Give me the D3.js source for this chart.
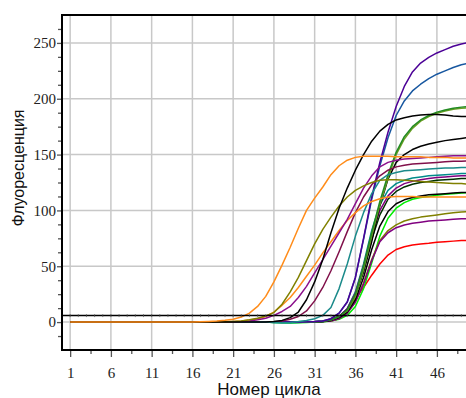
<!DOCTYPE html>
<html>
<head>
<meta charset="utf-8">
<script src="https://cdn.jsdelivr.net/npm/d3@7"></script>
<style>
  html, body { margin: 0; padding: 0; background: #fff; }
  svg { display: block; }
</style>
</head>
<body>
<svg id="chart" width="466" height="398"></svg>
<script>
// ---------- data ----------
const cycles = [1,2,3,4,5,6,7,8,9,10,11,12,13,14,15,16,17,18,19,20,21,22,23,24,25,26,27,28,29,30,31,32,33,34,35,36,37,38,39,40,41,42,43,44,45,46,47,48,49,50];
const xTickLabels = [1,6,11,16,21,26,31,36,41,46];
const yTickLabels = [0,50,100,150,200,250];
const threshold = 5.8;

const orange1 = [0,0,0,0,0,0,0,0,0,0, 0,0,0,0,0,0,0.3,0.6,1,1.6, 2.6,4.5,8,14,23,36,51,67,84,100, 111,121,132,140,145,147.5,148.5,148.5,148.5,148.5, 148,148,148,148,147.5,147.5,147.5,147,147,147];
const olive1  = [0,0,0,0,0,0,0,0,0,0, 0,0,0,0,0,0,0,0,0,0.3, 0.6,1,2,3.5,5.5,8.5,16,27,40,55, 70,83,94,104,112,118,122,125,127,127.5, 127.5,127,126.5,126,125.5,125,124.5,124,124,123.5];
const purple1 = [0,0,0,0,0,0,0,0,0,0, 0,0,0,0,0,0,0,0,0,0.2, 0.3,0.5,1,2,3.5,6,9.5,14,22,32, 44,56,68,80,92,106,120,131,139,143, 145,146,146.5,147,147.5,148,148.5,149,149,149];
const orange2 = [0,0,0,0,0,0,0,0,0,0, 0,0,0,0,0,0,0,0,0,0.3, 0.6,1,1.8,3,5,9,15,22,31,41, 51,62,72,82,91,98,104,108,110.5,112, 112.5,112.5,112.5,112,112,112,112,112,112,112];
const black1  = [0,0,0,0,0,0,0,0,0,0, 0,0,0,0,0,0,0,0,0,0, 0,0,0,0,0,0.5,1.5,4,9,20, 36,56,80,102,120,136,150,162,171,177, 181,183,184.5,185.5,186,186,185.5,184.5,184,184];
const teal1   = [0,0,0,0,0,0,0,0,0,0, 0,0,0,0,0,0,0,0,0,0, 0,0,0,0,0,-0.3,-0.5,-0.3,0.5,1.5, 3,6,13,30,52,77,98,115,127,132, 134,135.5,136,136.5,137,137.5,138,138,138.5,138.5];
const maroon  = [0,0,0,0,0,0,0,0,0,0, 0,0,0,0,0,0,0,0,0,0, 0,0,0,0,0,0.3,1,2.5,5,10, 19,31,46,63,81,98,112,123,131,136, 139,140.5,141.5,142,142.5,143,143.5,144,144,144.5];
const indigo  = [0,0,0,0,0,0,0,0,0,0, 0,0,0,0,0,0,0,0,0,0, 0,0,0,0,0,0,0,0,0,0.2, 0.5,1,3,8,18,40,75,112,143,170, 193,211,224,232,237,241,244,247,249,250.5];
const blue    = [0,0,0,0,0,0,0,0,0,0, 0,0,0,0,0,0,0,0,0,0, 0,0,0,0,0,0,0,0,0,0.2, 0.5,1,3,8,18,40,74,110,140,165, 185,198,207,213,218,222,225,228,230.5,232];
const green1  = [0,0,0,0,0,0,0,0,0,0, 0,0,0,0,0,0,0,0,0,0, 0,0,0,0,0,0,0,0,0,0, 0.3,0.8,2,5,11,25,50,80,108,132, 152,166,175,181,185,188,190,191.5,192.5,193];
const green2  = [0,0,0,0,0,0,0,0,0,0, 0,0,0,0,0,0,0,0,0,0, 0,0,0,0,0,0,0,0,0,0, 0.3,0.8,2,5,10,23,47,77,105,129, 150,164,173.5,180,184,187,189,190.5,191.5,192];
const black3  = [0,0,0,0,0,0,0,0,0,0, 0,0,0,0,0,0,0,0,0,0, 0,0,0,0,0,0,0,0,0,0, 0.3,0.8,2,5,11,24,45,72,104,128, 143,150,154.5,157.5,159.5,161,162.5,163.5,164.5,165.5];
const purple3 = [0,0,0,0,0,0,0,0,0,0, 0,0,0,0,0,0,0,0,0,0, 0,0,0,0,0,0,0,0,0,0, 0.3,0.8,2,5,12,26,50,78,100,113, 120,124,126,127.5,128.5,129.5,130,130.5,131,131];
const dkgreen = [0,0,0,0,0,0,0,0,0,0, 0,0,0,0,0,0,0,0,0,0, 0,0,0,0,0,0,0,0,0,0, 0.2,0.6,2,5,11,24,46,74,96,110, 117,121,123.5,125,126,127,127.5,128,128.5,128.5];
const teal2   = [0,0,0,0,0,0,0,0,0,0, 0,0,0,0,0,0,0,0,0,0, 0,0,0,0,0,-0.3,-0.5,-0.5,-0.3,0, 0.2,0.6,2,5,12,27,52,82,105,118, 124,127,129,130,131,131.5,132,132.5,133,133];
const black2  = [0,0,0,0,0,0,0,0,0,0, 0,0,0,0,0,0,0,0,0,0, 0,0,0,0,0,0,0,0,0,0, 0.2,0.5,1.5,4,9,20,40,65,86,99, 106,109.5,111.5,113,114,114.5,115,115.5,116,116];
const lime    = [0,0,0,0,0,0,0,0,0,0, 0,0,0,0,0,0,0,0,0,0, 0,0,0,0,0,-0.3,-0.6,-0.8,-0.6,-0.3, 0,0.3,1,2.5,6,14,30,53,77,93, 102,107,110,111.5,112.5,113.5,114.5,115,115.5,116];
const olive2  = [0,0,0,0,0,0,0,0,0,0, 0,0,0,0,0,0,0,0,0,0, 0,0,0,0,0,0,0,0,0,0, 0.2,0.5,1,3,8,18,35,56,73,82, 87,90.5,92.5,94,95,96,97,98,98.5,99];
const purple2 = [0,0,0,0,0,0,0,0,0,0, 0,0,0,0,0,0,0,0,0,0, 0,0,0,0,0,0,0,0,0,0, 0.2,0.5,1,3,8,18,34,55,72,80, 84.5,87,88.5,89.5,90.5,91,91.5,92,92.5,92.7];
const red     = [0,0,0,0,0,0,0,0,0,0, 0,0,0,0,0,0,0,0,0,0, 0,0,0,0,0,0,0,0,0,0, 0,0.5,2,5,12,21,31,42,52,60, 65,67.5,69,70,70.5,71.5,72,72.5,73,73.3];

const seriesList = [
  { values: red,     color: "#ff0000" },
  { values: lime,    color: "#00ee00" },
  { values: olive2,  color: "#808000" },
  { values: purple2, color: "#800080" },
  { values: black2,  color: "#000000" },
  { values: teal2,   color: "#008b8b" },
  { values: dkgreen, color: "#003000" },
  { values: purple3, color: "#800080" },
  { values: black3,  color: "#000000" },
  { values: green2,  color: "#6b9e23" },
  { values: green1,  color: "#228b22" },
  { values: blue,    color: "#1757a0" },
  { values: indigo,  color: "#4b0096" },
  { values: maroon,  color: "#80104a" },
  { values: teal1,   color: "#1a8a8a" },
  { values: orange2, color: "#ff8c1a" },
  { values: purple1, color: "#8b108b" },
  { values: olive1,  color: "#808000" },
  { values: black1,  color: "#000000" },
  { values: orange1, color: "#ff8c1a" }
];

// ---------- layout ----------
const svg = d3.select("#chart");
const L = 62, T = 15, B = 350, R = 466;
const x = d3.scaleLinear().domain([0, 50]).range([L, L + 50 * 8.15]);
const y = d3.scaleLinear().domain([-25, 275]).range([B, T]);

svg.append("defs").append("clipPath").attr("id", "plotclip")
  .append("rect").attr("x", L).attr("y", T).attr("width", R - L).attr("height", B - T);

// grid
const grid = svg.append("g").attr("stroke", "#c8c8c8").attr("stroke-width", 1.5);
grid.selectAll("line.v").data(xTickLabels).join("line")
  .attr("x1", d => x(d)).attr("x2", d => x(d)).attr("y1", T).attr("y2", B);
grid.selectAll("line.h").data(yTickLabels).join("line")
  .attr("x1", L).attr("x2", R).attr("y1", d => y(d)).attr("y2", d => y(d));

// curves
const line = d3.line().x((d, i) => x(cycles[i])).y(d => y(d));
const curves = svg.append("g").attr("clip-path", "url(#plotclip)");
curves.selectAll("path").data(seriesList).join("path")
  .attr("d", d => line(d.values))
  .attr("fill", "none")
  .attr("stroke", d => d.color)
  .attr("stroke-width", 1.5)
  .attr("stroke-linejoin", "round");

// threshold line with small cycle markers
const th = svg.append("g").attr("clip-path", "url(#plotclip)");
th.append("line").attr("x1", L).attr("x2", R).attr("y1", y(threshold)).attr("y2", y(threshold))
  .attr("stroke", "#000").attr("stroke-width", 1.5);
th.selectAll("line.m").data(cycles).join("line")
  .attr("x1", d => x(d)).attr("x2", d => x(d))
  .attr("y1", y(threshold) - 1.5).attr("y2", y(threshold) + 1.5)
  .attr("stroke", "#555").attr("stroke-width", 0.7);

// axes
const yMinor = [-12.5,12.5,25,37.5,62.5,75,87.5,112.5,125,137.5,162.5,175,187.5,212.5,225,237.5,262.5];
const xMinor = [3.5,8.5,13.5,18.5,23.5,28.5,33.5,38.5,43.5,48.5];

const yAxis = svg.append("g").attr("transform", `translate(${L},0)`)
  .call(d3.axisLeft(y).tickValues(yTickLabels).tickSize(5).tickPadding(1).tickFormat(d3.format("d")));
svg.append("g").attr("transform", `translate(${L},0)`)
  .call(d3.axisLeft(y).tickValues(yMinor).tickSize(4).tickFormat(""))
  .call(g => g.select(".domain").remove());

const xAxis = svg.append("g").attr("transform", `translate(0,${B})`)
  .call(d3.axisBottom(x).tickValues(xTickLabels).tickSize(7).tickPadding(10).tickFormat(d3.format("d")));
svg.append("g").attr("transform", `translate(0,${B})`)
  .call(d3.axisBottom(x).tickValues(xMinor).tickSize(4).tickFormat(""))
  .call(g => g.select(".domain").remove());

[yAxis, xAxis].forEach(g => {
  g.select(".domain").remove();
  g.selectAll(".tick text").attr("font-family", "'Liberation Serif', 'Times New Roman', serif")
    .attr("font-size", 15).attr("fill", "#222");
});
svg.selectAll("g .tick line").attr("stroke", "#555").attr("stroke-width", 1.3);

// frame
const frame = svg.append("g").attr("stroke", "#000").attr("stroke-width", 2).attr("fill", "none");
frame.append("line").attr("x1", L).attr("x2", L).attr("y1", T - 1).attr("y2", B + 1);
frame.append("line").attr("x1", L).attr("x2", R).attr("y1", T).attr("y2", T);
frame.append("line").attr("x1", L).attr("x2", R).attr("y1", B).attr("y2", B);

// titles
svg.append("text").attr("transform", "translate(24,168) rotate(-90)")
  .attr("text-anchor", "middle")
  .attr("font-family", "'Liberation Sans', Arial, sans-serif").attr("font-size", 16).attr("fill", "#111")
  .text("Флуоресценция");
svg.append("text").attr("x", 269).attr("y", 395)
  .attr("text-anchor", "middle")
  .attr("font-family", "'Liberation Sans', Arial, sans-serif").attr("font-size", 17).attr("fill", "#111")
  .text("Номер цикла");
</script>
</body>
</html>
